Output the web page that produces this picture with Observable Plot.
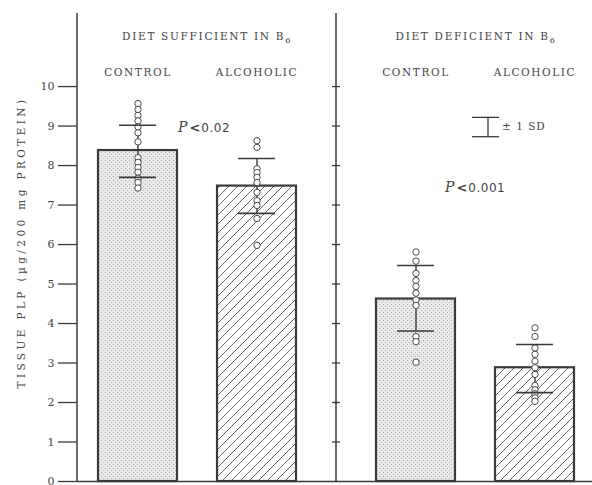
<!DOCTYPE html>
<html><head><meta charset="utf-8">
<script src="https://cdn.jsdelivr.net/npm/d3@7"></script>
<script src="https://cdn.jsdelivr.net/npm/@observablehq/plot@0.6"></script>
<style>
body{margin:0;background:#fff}
#chart svg text{font-family:"DejaVu Serif",serif;}
</style></head><body><div id="chart"></div>
<script>
// ---- data ----
const diets = ["DIET SUFFICIENT IN B\u2086", "DIET DEFICIENT IN B\u2086"];
const groups = ["CONTROL", "ALCOHOLIC"];
const barDiet = [diets[0], diets[0], diets[1], diets[1]];
const barGroup = [groups[0], groups[1], groups[0], groups[1]];
const means = [8.38, 7.48, 4.62, 2.88];
const sdHigh = [9.02, 8.18, 5.47, 3.47];
const sdLow = [7.70, 6.79, 3.81, 2.25];
const pointsC1 = [9.57, 9.42, 9.27, 9.13, 8.98, 8.83, 8.6, 8.2, 8.08, 7.95, 7.83, 7.68, 7.57, 7.43];
const pointsA1 = [8.63, 8.46, 7.92, 7.82, 7.7, 7.57, 7.32, 7.11, 6.99, 6.66, 5.98];
const pointsC2 = [5.81, 5.58, 5.27, 5.09, 4.94, 4.77, 4.6, 4.46, 3.67, 3.54, 3.02];
const pointsA2 = [3.89, 3.67, 3.38, 3.22, 3.05, 2.88, 2.71, 2.43, 2.32, 2.22, 2.12, 2.03];
const yTicks = [0, 1, 2, 3, 4, 5, 6, 7, 8, 9, 10];
const yLabel = "TISSUE PLP (\u00b5g/200 mg PROTEIN)";
const pTexts = ["0.02", "0.001"];
const sdText = "\u00b1 1 SD";

// ---- tables ----
const bars = means.map((m, i) => ({diet: barDiet[i], group: barGroup[i], mean: m, hi: sdHigh[i], lo: sdLow[i]}));
const allPoints = [pointsC1, pointsA1, pointsC2, pointsA2];
const points = allPoints.flatMap((arr, i) => arr.map(v => ({diet: barDiet[i], group: barGroup[i], v})));

const ink = "#3a3a3a";
const txt = "#444";
const yTop = 11.85;

const chart = Plot.plot({
  width: 592, height: 485,
  marginLeft: 97, marginRight: 17, marginTop: 13, marginBottom: 4,
  fx: {domain: diets, paddingInner: 80 / 280, paddingOuter: 0, axis: null, label: null},
  x: {domain: groups, paddingInner: 1 / 3, paddingOuter: 0, axis: null},
  y: {domain: [0, yTop], axis: null},
  style: {fontFamily: "DejaVu Serif", fontSize: "11px", color: txt, background: "white"},
  marks: [
    // left axis
    Plot.axisY({ticks: yTicks, tickSize: 19, tickPadding: 4, dx: -21, tickFormat: d => String(d), label: null, stroke: ink, strokeWidth: 1.3, fill: txt, fontSize: 11}),
    // divider ticks
    Plot.axisY({ticks: yTicks.slice(1), tickSize: 8, tickPadding: 0, dx: -36, tickFormat: () => "", label: null, facetAnchor: "right", stroke: ink, strokeWidth: 1.3}),
    // axis line & divider
    Plot.ruleX([diets[0]], {fx: d => d, x: null, y1: 0, y2: yTop, dx: -121, stroke: ink, strokeWidth: 1.5}),
    Plot.ruleX([diets[1]], {fx: d => d, x: null, y1: 0, y2: yTop, dx: -140, stroke: ink, strokeWidth: 1.5}),
    // baseline
    Plot.ruleY([0], {fx: () => diets[0], insetLeft: -21, insetRight: -40, stroke: ink, strokeWidth: 1.5}),
    Plot.ruleY([0], {fx: () => diets[1], insetLeft: -40, insetRight: -17, stroke: ink, strokeWidth: 1.5}),
    // bars
    Plot.barY(bars.filter(d => d.group === groups[0]), {fx: "diet", x: "group", y: "mean", fill: "url(#stipple)", stroke: ink, strokeWidth: 2.2}),
    Plot.barY(bars.filter(d => d.group === groups[1]), {fx: "diet", x: "group", y: "mean", fill: "url(#hatch)", stroke: ink, strokeWidth: 2.2}),
    // error stems
    Plot.ruleX(bars, {fx: "diet", x: "group", y1: "lo", y2: "hi", stroke: ink, strokeWidth: 1.4}),
    // individual points
    Plot.dot(points, {fx: "diet", x: "group", y: "v", r: 3.2, fill: "white", stroke: "#4a4a4a", strokeWidth: 1}),
    // caps
    Plot.tickY(bars, {fx: "diet", x: "group", y: "hi", insetLeft: 21, insetRight: 21, stroke: ink, strokeWidth: 1.6}),
    Plot.tickY(bars, {fx: "diet", x: "group", y: "lo", insetLeft: 21, insetRight: 21, stroke: ink, strokeWidth: 1.6}),
    // headers
    Plot.text([diets[0]], {fx: d => d, text: d => d, frameAnchor: "top", dy: 19, dx: 9, fontSize: 10.5, fill: txt}),
    Plot.text([diets[1]], {fx: d => d, text: d => d, frameAnchor: "top", dy: 19, dx: 0, fontSize: 10.5, fill: txt}),
    Plot.text(bars, {fx: "diet", x: "group", text: "group", frameAnchor: "top", dy: 55, fontSize: 10.5, fill: txt}),
    // y label
    Plot.text([yLabel], {fx: () => diets[0], x: () => groups[0], y: () => 6.05, text: d => d, rotate: -90, dx: -116, fontSize: 10.5, fill: txt}),
    // p values
    Plot.text([pTexts[0]], {fx: () => diets[0], x: () => groups[0], y: () => 8.94, text: d => d, textAnchor: "start", dx: 40, fontSize: 12, fill: txt}),
    Plot.text([pTexts[1]], {fx: () => diets[1], x: () => groups[0], y: () => 7.42, text: d => d, textAnchor: "start", dx: 29, fontSize: 12, fill: txt}),
    // SD legend
    Plot.tickY([9.22, 8.73], {fx: () => diets[1], x: () => groups[1], y: d => d, insetLeft: -23, insetRight: 75, stroke: ink, strokeWidth: 1.3}),
    Plot.ruleX([0], {fx: () => diets[1], x: () => groups[1], y1: () => 8.73, y2: () => 9.22, dx: -47, stroke: ink, strokeWidth: 1.3}),
    Plot.text([sdText], {fx: () => diets[1], x: () => groups[1], y: () => 8.99, text: d => d, textAnchor: "start", dx: -33, fontSize: 10.5, fill: txt})
  ]
});

// patterns
const svg = d3.select(chart);
const defs = svg.insert("defs", ":first-child");
const st = defs.append("pattern").attr("id", "stipple").attr("patternUnits", "userSpaceOnUse").attr("width", 4).attr("height", 4);
st.append("rect").attr("width", 4).attr("height", 4).attr("fill", "#e9e9e9");
st.append("rect").attr("x", 0).attr("y", 0).attr("width", 1).attr("height", 1).attr("fill", "#a8a8a8");
st.append("rect").attr("x", 2).attr("y", 2).attr("width", 1).attr("height", 1).attr("fill", "#bbbbbb");
const ht = defs.append("pattern").attr("id", "hatch").attr("patternUnits", "userSpaceOnUse").attr("width", 9).attr("height", 9);
ht.append("rect").attr("width", 9).attr("height", 9).attr("fill", "white");
ht.append("path").attr("d", "M-1,1 L1,-1 M0,9 L9,0 M8,10 L10,8").attr("stroke", "#555").attr("stroke-width", 0.9);

// text styling by content
svg.selectAll("text").each(function() {
  const t = d3.select(this);
  const s = t.text();
  if (diets.includes(s)) {
    t.style("letter-spacing", "1.7px");
    t.text(null);
    t.append("tspan").text(s.slice(0, -1));
    t.append("tspan").attr("font-size", 8).attr("dy", 3).text("6");
  } else if (groups.includes(s)) {
    t.style("letter-spacing", "1.6px");
  } else if (s === yLabel) {
    t.style("letter-spacing", "3.4px");
  } else if (s === sdText) {
    t.style("letter-spacing", "1px");
  } else if (pTexts.includes(s)) {
    t.text(null);
    t.append("tspan").attr("font-style", "italic").attr("font-size", 14).text("P");
    t.append("tspan").attr("font-weight", "bold").attr("font-family", "DejaVu Sans").attr("font-size", 13).attr("dx", 2).text("<");
    t.append("tspan").attr("font-family", "DejaVu Sans").attr("dx", 1).style("letter-spacing", "0.5px").text(s);
  }
});

document.getElementById("chart").append(chart);
</script></body></html>
